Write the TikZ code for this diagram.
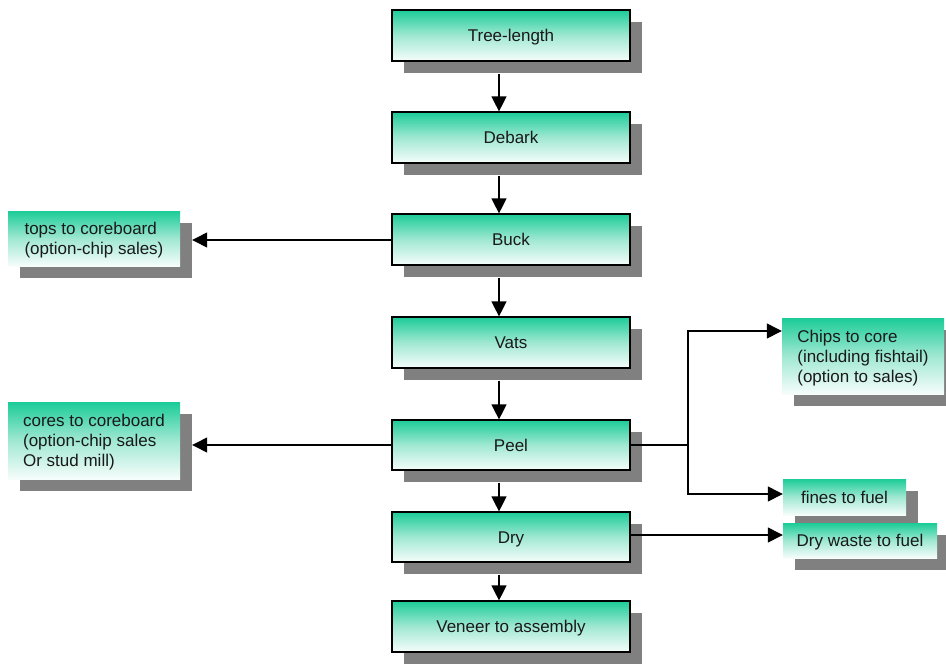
\documentclass[tikz,border=0pt]{standalone}
\usepackage{fontspec}
\setmainfont{Liberation Sans}
\usetikzlibrary{arrows.meta,shadows}
\definecolor{boxteal}{RGB}{28,204,152}
\definecolor{boxmint}{RGB}{160,232,210}
\definecolor{boxpale}{RGB}{246,253,251}
\definecolor{shadowgray}{RGB}{128,128,128}
\definecolor{labelink}{RGB}{25,25,25}
\tikzset{
  boxshade/.style={top color=boxteal, bottom color=boxpale, middle color=boxmint},
  boxshadow/.style={drop shadow={shadow xshift=12pt, shadow yshift=-12pt, fill=shadowgray, opacity=1}},
  stagebox/.style={rectangle, boxshade, boxshadow, draw=black, line width=1.2pt,
    minimum width=238pt, minimum height=51pt, inner sep=0pt,
    text height=12pt, text depth=0pt,
    text=labelink, font=\fontsize{17}{20}\selectfont},
  sidebox/.style={rectangle, boxshade, boxshadow, draw=none,
    inner sep=0pt, align=left, text depth=0pt,
    text=labelink, font=\fontsize{17}{20}\selectfont},
  flow/.style={line width=1.3pt, -{Triangle[length=15pt,width=15pt]}},
  plain/.style={line width=1.3pt}
}
\begin{document}
\begin{tikzpicture}[x=1pt,y=-1pt]
\useasboundingbox (0,0) rectangle (946,664);

% main processing chain
\node[stagebox] (tree)   at (511,35.5)  {Tree-length};
\node[stagebox] (debark) at (511,137.5) {Debark};
\node[stagebox] (buck)   at (511,239.5) {Buck};
\node[stagebox] (vats)   at (511,342.5) {Vats};
\node[stagebox, minimum height=50pt] (peel) at (511,445) {Peel};
\node[stagebox, minimum height=50pt] (dry)  at (511,537) {Dry};
\node[stagebox] (veneer) at (511,626.5) {Veneer to assembly};

% by-products
\node[sidebox, minimum width=172pt, minimum height=55pt] (tops) at (94,238.5)
  {tops to coreboard\\(option-chip sales)};
\node[sidebox, minimum width=172pt, minimum height=77pt] (cores) at (94,440.5)
  {cores to coreboard\\(option-chip sales\\Or stud mill)};
\node[sidebox, minimum width=162pt, minimum height=76pt] (chips) at (863,356)
  {Chips to core\\(including fishtail)\\(option to sales)};
\node[sidebox, minimum width=123pt, minimum height=36pt] (fines) at (844.5,497)
  {fines to fuel};
\node[sidebox, minimum width=154pt, minimum height=35pt] (waste) at (860,540.5)
  {Dry waste to fuel};

% vertical flow, leaving from below each shadow
\draw[flow] ([xshift=-12pt,yshift=-12pt]tree.south)   -- ([xshift=-12pt]debark.north);
\draw[flow] ([xshift=-12pt,yshift=-12pt]debark.south) -- ([xshift=-12pt]buck.north);
\draw[flow] ([xshift=-12pt,yshift=-12pt]buck.south)   -- ([xshift=-12pt]vats.north);
\draw[flow] ([xshift=-12pt,yshift=-12pt]vats.south)   -- ([xshift=-12pt]peel.north);
\draw[flow] ([xshift=-12pt,yshift=-12pt]peel.south)   -- ([xshift=-12pt]dry.north);
\draw[flow] ([xshift=-12pt,yshift=-12pt]dry.south)    -- ([xshift=-12pt]veneer.north);

% side outputs
\draw[flow] ([yshift=-0.5pt]buck.west) -- ([xshift=12pt,yshift=-0.5pt]buck.west -| tops.east);
\draw[flow] (peel.west) -- ([xshift=12pt]peel.west -| cores.east);
\coordinate (split) at (688,445);
\draw[plain] (peel.east) -- (split);
\draw[flow] (split) |- ([yshift=25pt]chips.west);
\draw[flow] (split) |- ([yshift=3pt]fines.west);
\draw[flow] ([yshift=2pt]dry.east) -- ([yshift=2pt]dry.east -| waste.west);
\end{tikzpicture}
\end{document}
